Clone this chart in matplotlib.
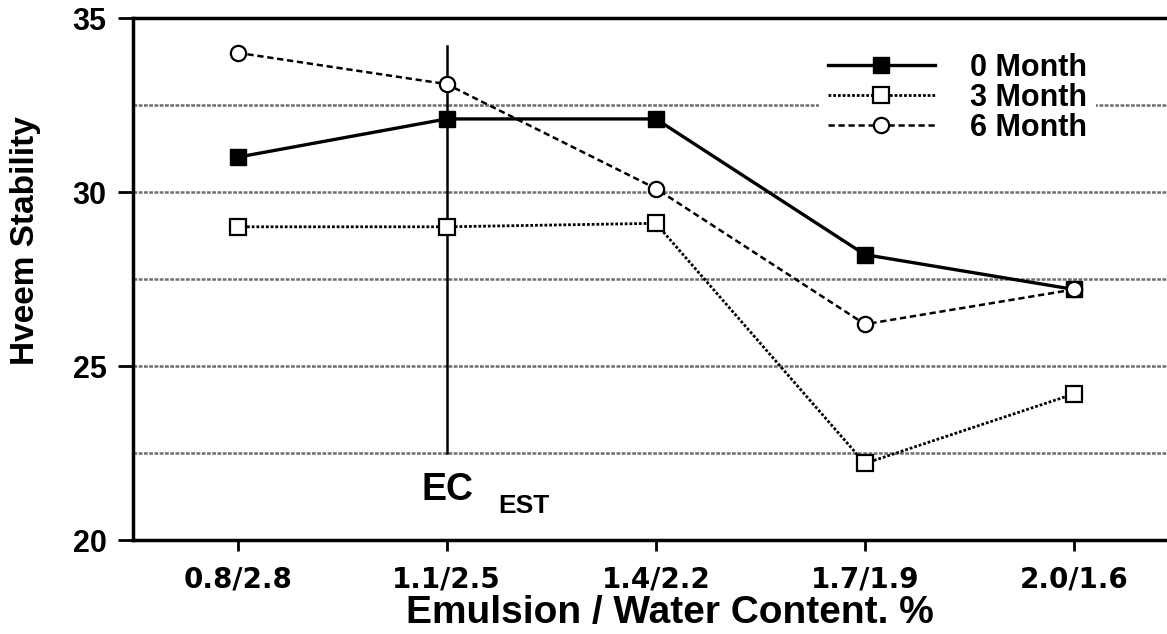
import matplotlib
matplotlib.use("Agg")
import matplotlib.pyplot as plt

categories = ["0.8/2.8", "1.1/2.5", "1.4/2.2", "1.7/1.9", "2.0/1.6"]
month0 = [31.0, 32.1, 32.1, 28.2, 27.2]
month3 = [29.0, 29.0, 29.1, 22.2, 24.2]
month6 = [34.0, 33.1, 30.1, 26.2, 27.2]
series_labels = ["0 Month", "3 Month", "6 Month"]
grid_levels = [32.5, 30.0, 27.5, 25.0, 22.5]
yticks = [20, 25, 30, 35]
ec_x = 1
ec_range = (22.5, 34.2)

LAB = "Liberation Sans"
DV = "DejaVu Sans"

fig = plt.figure(figsize=(11.67, 6.34), dpi=100)
ax = fig.add_axes([133/1167, (634-540)/634, 1 - 133/1167 + 0.01, (540-18)/634])

x = list(range(len(categories)))

for g in grid_levels:
    ax.axhline(g, color="#6e6e6e", lw=1.8, ls=(0, (1.5, 0.6)), zorder=1)

ax.plot([ec_x, ec_x], ec_range, color="black", lw=1.8, zorder=2)

l0, = ax.plot(x, month0, color="black", lw=2.4, ls="-", marker="s", ms=11,
              mfc="black", mec="black", zorder=4)
l3, = ax.plot(x, month3, color="black", lw=2.0, ls=(0, (1, 0.7)), marker="s", ms=11,
              mfc="white", mec="black", mew=1.6, zorder=4)
l6, = ax.plot(x, month6, color="black", lw=1.8, ls=(0, (2.5, 1.5)), marker="o", ms=11,
              mfc="white", mec="black", mew=1.6, zorder=4)

ax.set_xlim(-0.5, 4.5)
ax.set_ylim(20, 35)
ax.set_xticks(x)
ax.set_xticklabels(categories, fontfamily=DV, fontweight="bold", fontsize=20)
ax.set_yticks(yticks)
ax.set_yticklabels([str(t) for t in yticks], fontfamily=LAB, fontweight="bold", fontsize=22)
ax.tick_params(axis="x", direction="out", length=8, width=2, pad=10)
ax.tick_params(axis="y", direction="out", length=11, width=2, pad=8)

for s in ["left", "bottom", "top"]:
    ax.spines[s].set_linewidth(2.5)
ax.spines["right"].set_visible(False)

ax.set_xlabel("Emulsion / Water Content. %", fontfamily=LAB, fontweight="bold",
              fontsize=28)
ax.xaxis.label.set_va("center")
ax.xaxis.set_label_coords((664-133)/1034, (540-613)/522)
ax.set_ylabel("Hveem Stability", fontfamily=LAB, fontweight="bold", fontsize=24)
ax.yaxis.label.set_va("center")
ax.yaxis.set_label_coords((27-133)/1034, (540-241)/522)

ax.text(0.88, 21.45, "EC", fontfamily=LAB, fontweight="bold", fontsize=27,
        ha="left", va="center", zorder=5)
ax.text(1.245, 20.98, "EST", fontfamily=LAB, fontweight="bold", fontsize=19,
        ha="left", va="center", zorder=5)

leg = ax.legend([l0, l3, l6], series_labels, loc="upper left",
                bbox_to_anchor=(0.641, 0.98), frameon=True, framealpha=1,
                facecolor="white", edgecolor="none", fancybox=False,
                handlelength=3.5, handletextpad=1.15, labelspacing=0.0,
                borderpad=0.3, numpoints=1,
                prop={"family": LAB, "weight": "bold", "size": 22})
leg.set_zorder(6)

fig.savefig("out.png", dpi=100)
